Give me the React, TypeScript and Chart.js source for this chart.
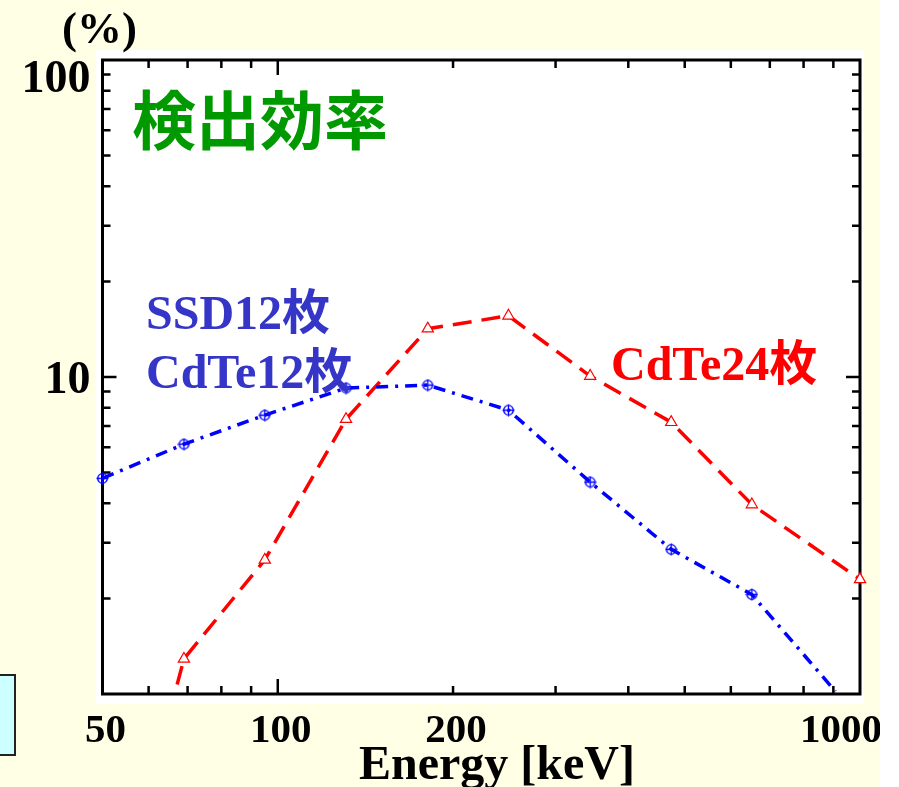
import React, { useEffect, useRef } from "react";
import { Chart, registerables } from "chart.js";

Chart.register(...registerables);

// ---------- data ----------
const energySSD = [50, 69, 95, 131, 181, 249, 344, 474, 652, 907];
const effSSD = [4.79, 6.14, 7.58, 9.23, 9.43, 7.86, 4.66, 2.86, 2.06, 1.02];
const markSSD = [1, 1, 1, 1, 1, 1, 1, 1, 1, 0];

const energyCdTe = [50, 69, 95, 131, 181, 249, 344, 474, 652, 1000];
const effCdTe = [0.14, 1.29, 2.65, 7.36, 14.2, 15.6, 10.07, 7.2, 3.96, 2.3];
const markCdTe = [0, 1, 1, 1, 1, 1, 1, 1, 1, 1];

const xRange = [50, 1000];
const yRange = [1, 100];
const xLabelTicks = [50, 100, 200, 1000];
const yLabelTicks = [10, 100];
const xMajorTicks = [100];
const xMinorTicks = [60, 70, 80, 90, 200, 300, 400, 500, 600, 700, 800, 900];
const yMajorTicks = [10];
const yMinorTicks = [2, 3, 4, 5, 6, 7, 8, 9, 20, 30, 40, 50, 60, 70, 80, 90];

const yUnit = "(%)";
const xTitle = "Energy [keV]";
const chartTitle = "検出効率";
const labelSSD = ["SSD12枚", "CdTe12枚"];
const labelCdTe = "CdTe24枚";

// ---------- style ----------
const W = 880;
const H = 787;
const BG = "#FFFFE6";
const SERIF = '"Liberation Serif", "Times New Roman", "Noto Sans CJK JP", serif';
const BLUE = "#0000FF";
const RED = "#FF0000";
const TEXT_BLUE = "#3535C8";
const GREEN = "#009900";

function makeCrossCircle(color: string) {
  const c = document.createElement("canvas");
  c.width = 13;
  c.height = 13;
  const g = c.getContext("2d")!;
  g.strokeStyle = color;
  g.lineWidth = 1.3;
  g.beginPath();
  g.arc(6.5, 6.5, 4.8, 0, Math.PI * 2);
  g.stroke();
  g.beginPath();
  g.moveTo(6.5, 0.5);
  g.lineTo(6.5, 12.5);
  g.moveTo(0.5, 6.5);
  g.lineTo(12.5, 6.5);
  g.stroke();
  return c;
}

const decor = {
  id: "decor",
  beforeDraw(chart: any) {
    const { ctx, chartArea: a } = chart;
    ctx.save();
    ctx.fillStyle = BG;
    ctx.fillRect(0, 0, W, H);
    ctx.fillStyle = "#FFFFFF";
    ctx.fillRect(a.left - 6.5, a.top - 10, a.right - a.left + 10.5, a.bottom - a.top + 20);
    // partial cyan box at left edge
    ctx.fillStyle = "#CCFFFF";
    ctx.fillRect(-3, 675, 18, 80);
    ctx.strokeStyle = "#222222";
    ctx.lineWidth = 2;
    ctx.strokeRect(-3, 675, 18, 80);
    ctx.restore();
  },
  beforeDatasetsDraw(chart: any) {
    const { ctx, chartArea: a, scales } = chart;
    const x = scales.x;
    const y = scales.y;
    ctx.save();
    ctx.strokeStyle = "#000";
    ctx.lineWidth = 2.5;
    ctx.beginPath();
    const xt = (vals: number[], len: number) => {
      vals.forEach((v) => {
        const px = x.getPixelForValue(v);
        ctx.moveTo(px, a.bottom);
        ctx.lineTo(px, a.bottom - len);
        ctx.moveTo(px, a.top);
        ctx.lineTo(px, a.top + len);
      });
    };
    const yt = (vals: number[], len: number) => {
      vals.forEach((v) => {
        const py = y.getPixelForValue(v);
        ctx.moveTo(a.left, py);
        ctx.lineTo(a.left + len, py);
        ctx.moveTo(a.right, py);
        ctx.lineTo(a.right - len, py);
      });
    };
    xt(xMinorTicks, 8);
    xt(xMajorTicks, 15);
    yt(yMinorTicks, 8);
    yt(yMajorTicks, 14);
    ctx.stroke();
    ctx.lineWidth = 3;
    ctx.strokeRect(a.left, a.top, a.right - a.left, a.bottom - a.top);
    ctx.restore();
  },
  afterDraw(chart: any) {
    const { ctx, chartArea: a, scales } = chart;
    const x = scales.x;
    const y = scales.y;
    ctx.save();
    ctx.textBaseline = "alphabetic";
    // tick labels
    ctx.fillStyle = "#000";
    ctx.font = `bold 41px ${SERIF}`;
    xLabelTicks.forEach((v, i) => {
      const px = x.getPixelForValue(v);
      if (i === xLabelTicks.length - 1) {
        ctx.textAlign = "right";
        ctx.fillText(String(v), px + 22, a.bottom + 48);
      } else {
        ctx.textAlign = "center";
        ctx.fillText(String(v), px + 3, a.bottom + 48);
      }
    });
    ctx.textAlign = "right";
    ctx.font = `bold 46px ${SERIF}`;
    yLabelTicks.forEach((v) => {
      const py = y.getPixelForValue(v);
      const extra = v === yRange[1] ? 16 : 0;
      ctx.fillText(String(v), a.left - 12, py + 16 + extra);
    });
    ctx.textAlign = "center";
    ctx.font = `bold 45px ${SERIF}`;
    ctx.fillText(yUnit, a.left - 3, 43);
    ctx.font = `bold 48px ${SERIF}`;
    ctx.fillText(xTitle, 497, 779);
    // title
    ctx.fillStyle = GREEN;
    ctx.font = `bold 64px "Noto Sans CJK JP", sans-serif`;
    ctx.fillText(chartTitle, 260, 144);
    // series labels
    ctx.textAlign = "left";
    ctx.font = `bold 48px ${SERIF}`;
    ctx.fillStyle = TEXT_BLUE;
    ctx.fillText(labelSSD[0], 146, 329);
    ctx.fillText(labelSSD[1], 146, 388);
    ctx.fillStyle = RED;
    ctx.fillText(labelCdTe, 611, 380);
    ctx.restore();
  },
};

export default function App() {
  const ref = useRef<HTMLCanvasElement>(null);
  useEffect(() => {
    document.body.style.margin = "0";
    const canvas = ref.current!;
    const crossCircle = makeCrossCircle(BLUE);
    const chart = new Chart(canvas, {
      type: "line",
      data: {
        datasets: [
          {
            label: labelSSD.join(" "),
            data: energySSD.map((e, i) => ({ x: e, y: effSSD[i] })),
            borderColor: BLUE,
            borderWidth: 3.5,
            borderDash: [12, 7, 3, 7],
            backgroundColor: BLUE,
            pointStyle: crossCircle as any,
            pointRadius: markSSD.map((m) => (m ? 6 : 0)),
            pointHoverRadius: 0,
            tension: 0,
            fill: false,
            clip: { left: 10, right: 10, top: 0, bottom: 0 } as any,
          },
          {
            label: labelCdTe,
            data: energyCdTe.map((e, i) => ({ x: e, y: effCdTe[i] })),
            borderColor: RED,
            borderWidth: 3.5,
            borderDash: [19, 10],
            pointStyle: "triangle",
            pointRadius: markCdTe.map((m) => (m ? 6.5 : 0)),
            pointBorderWidth: 1.2,
            pointBorderColor: RED,
            pointBackgroundColor: "#FFFFFF",
            pointHoverRadius: 0,
            tension: 0,
            fill: false,
            clip: { left: 10, right: 10, top: 0, bottom: 0 } as any,
          },
        ],
      },
      options: {
        animation: false,
        responsive: false,
        events: [],
        layout: { padding: { left: 102.5, top: 60, right: 20, bottom: 93 } },
        plugins: { legend: { display: false }, tooltip: { enabled: false } },
        scales: {
          x: { type: "logarithmic", min: xRange[0], max: xRange[1], display: false },
          y: { type: "logarithmic", min: yRange[0], max: yRange[1], display: false },
        },
      },
      plugins: [decor],
    });
    return () => chart.destroy();
  }, []);
  return (
    <div style={{ width: 899, height: 787, background: "#FFFFFF", position: "relative", overflow: "hidden" }}>
      <canvas ref={ref} width={W} height={H} style={{ display: "block" }} />
    </div>
  );
}
